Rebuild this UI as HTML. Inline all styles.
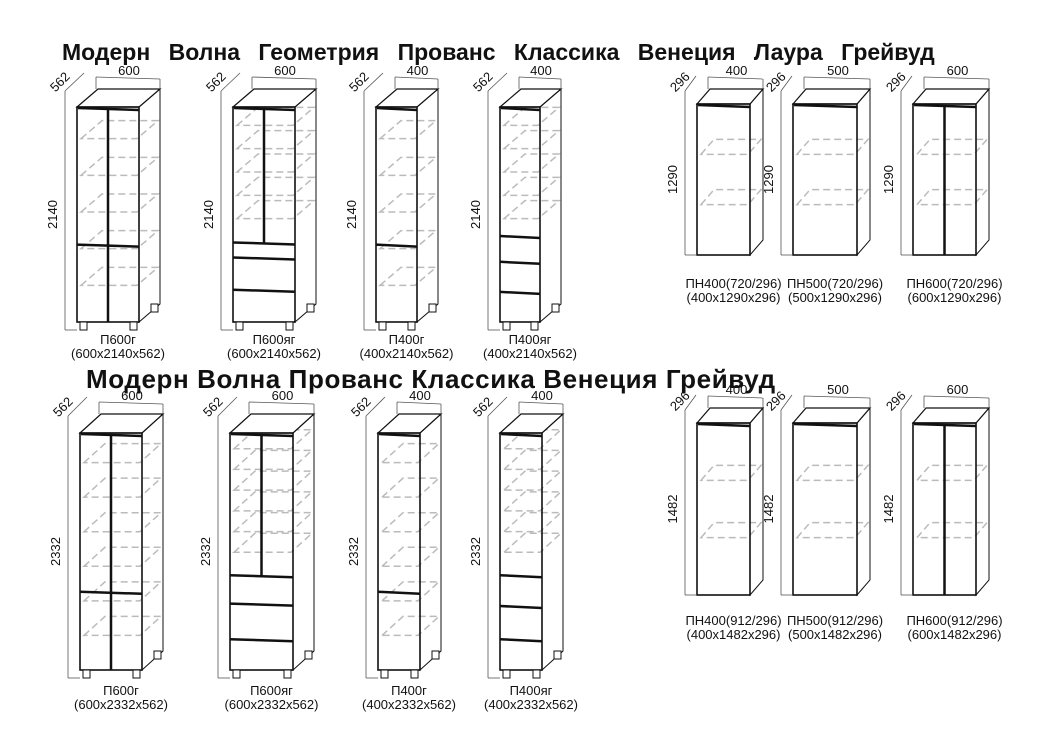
<!DOCTYPE html>
<html><head><meta charset="utf-8"><style>
html,body{margin:0;padding:0;background:#fff;}
svg{display:block;font-family:"Liberation Sans",sans-serif;}
</style></head><body>
<svg id="s" width="1045" height="749" viewBox="0 0 1045 749" xmlns="http://www.w3.org/2000/svg">
<rect width="1045" height="749" fill="#fff"/>
<text x="62" y="60" font-size="23" font-weight="bold" fill="#111" word-spacing="12">Модерн  Волна  Геометрия  Прованс  Классика  Венеция Лаура Грейвуд</text>
<text x="86" y="388" font-size="26" font-weight="bold" fill="#111" letter-spacing="0.6">Модерн Волна Прованс Классика Венеция Грейвуд</text>
<g id="g"></g>
</svg>
<script>
var out='';
function L(x1,y1,x2,y2,w,c,d){out+='<line x1="'+x1+'" y1="'+y1+'" x2="'+x2+'" y2="'+y2+'" stroke="'+(c||'#111')+'" stroke-width="'+(w||1)+'"'+(d?' stroke-dasharray="'+d+'"':'')+'/>';}
function T(x,y,s,t,r){out+='<text x="'+x+'" y="'+y+'" font-size="'+s+'" text-anchor="middle" fill="#111"'+(r?' transform="rotate('+r+' '+x+' '+y+')"':'')+'>'+t+'</text>';}
function cab(o){
 var x=o.x,y=o.y,w=o.w,h=o.h,dx=o.dx,dy=o.dy,b=y+h;
 var thin='#555';
 var n=o.sh, top=o.st||0, bot=o.sb||h;
 for(var i=1;i<=n;i++){
  var sy=y+top+(bot-top)*i/(n+1);
  var px=x+4, pw=w-4;
  var c='#bbb', d='7 4';
  out+='<polygon points="'+px+','+sy+' '+(px+dx)+','+(sy+dy)+' '+(px+pw+dx-2)+','+(sy+dy)+' '+(px+pw-2)+','+sy+'" fill="none" stroke="'+c+'" stroke-width="1.5" stroke-dasharray="'+d+'"/>';
 }
 out+='<polygon points="'+(x+w)+','+y+' '+(x+w+dx)+','+(y+dy)+' '+(x+w+dx)+','+(b+dy)+' '+(x+w)+','+b+'" fill="#fff" fill-opacity="0" stroke="#111" stroke-width="1"/>';
 out+='<polygon points="'+x+','+y+' '+(x+dx)+','+(y+dy)+' '+(x+w+dx)+','+(y+dy)+' '+(x+w)+','+y+'" fill="#fff" stroke="#111" stroke-width="1.2"/>';
 out+='<rect x="'+x+'" y="'+y+'" width="'+w+'" height="'+h+'" fill="none" stroke="#111" stroke-width="1.6"/>';
 L(x+1,y+1,x+w,y+3,2.5);
 var hs=o.hs||[];
 if(o.v) L(x+w/2,y+2,x+w/2,hs.length>1?y+h*hs[0]:b,2.5);
 hs.forEach(function(f){var yy=y+h*f;L(x,yy,x+w,yy+2,2.5);});
 if(o.legs){
  [[x+6,b],[x+w-6,b],[x+w+dx-6,b+dy]].forEach(function(p){out+='<rect x="'+(p[0]-3)+'" y="'+p[1]+'" width="7" height="'+(o.legs)+'" fill="#fff" stroke="#111"/>';});
 }
 var lb=b+(o.legs||0);
 L(x-12,y+dy+2,x-12,lb,0.8,thin);
 L(x-12,lb,x,lb,0.8,thin);
 L(x-12,y+dy+2,x+dx-14,y+2*dy+2,0.8,thin);
 L(x+dx-2,y+dy-12,x+w+dx,y+dy-10,0.8,thin);
 L(x+dx-2,y+dy-12,x+dx-2,y+dy,0.8,thin);
 L(x+w+dx,y+dy-10,x+w+dx,y+dy,0.8,thin);
 T(x+dx+w/2,y+dy-14,13,o.wl);
 T(x-14,y+dy-4,13,o.dl,-45);
 T(x-20,y+h/2,13,o.hl,-90);
 T(x+w/2+10,o.ly,13,o.n1);
 T(x+w/2+10,o.ly+14,13,o.n2);
}
var r1=[[77,62,'600',true,[0.64],[],'П600г'],[233,62,'600',true,[0.63],[0.7,0.85],'П600яг'],[376,41,'400',false,[0.64],[],'П400г'],[500,40,'400',false,[0.6],[0.72,0.86],'П400яг']];
r1.forEach(function(c){cab({x:c[0],y:107,w:c[1],h:215,dx:21,dy:-18,legs:8,v:c[3],hs:c[4].concat(c[5]),sh:5,st:-5,sb:c[5].length?135:215,wl:c[2],dl:'562',hl:'2140',ly:344,n1:c[6],n2:'('+c[2]+'x2140x562)'});});
var r2=[[80,62,'600',true,[0.67],[],'П600г'],[230,63,'600',true,[0.6],[0.72,0.87],'П600яг'],[378,42,'400',false,[0.67],[],'П400г'],[500,42,'400',false,[0.6],[0.73,0.87],'П400яг']];
r2.forEach(function(c){cab({x:c[0],y:433,w:c[1],h:237,dx:21,dy:-19,legs:8,v:c[3],hs:c[4].concat(c[5]),sh:6,st:-5,sb:c[5].length?140:237,wl:c[2],dl:'562',hl:'2332',ly:695,n1:c[6],n2:'('+c[2]+'x2332x562)'});});
var w1=[[697,53,'400',false],[793,64,'500',false],[913,63,'600',true]];
w1.forEach(function(c){cab({x:c[0],y:104,w:c[1],h:151,dx:13,dy:-15,legs:0,v:c[3],hs:[],sh:2,wl:c[2],dl:'296',hl:'1290',ly:288,n1:'ПН'+c[2]+'(720/296)',n2:'('+c[2]+'x1290x296)'});});
w1.forEach(function(c){cab({x:c[0],y:423,w:c[1],h:172,dx:13,dy:-15,legs:0,v:c[3],hs:[],sh:2,wl:c[2],dl:'296',hl:'1482',ly:625,n1:'ПН'+c[2]+'(912/296)',n2:'('+c[2]+'x1482x296)'});});
document.getElementById('g').innerHTML=out;
</script>
</body></html>
